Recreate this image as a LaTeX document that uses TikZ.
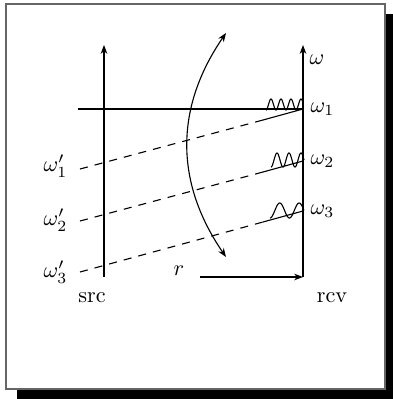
\documentclass[tikz,border=0pt]{standalone}
\usetikzlibrary{arrows.meta}
\begin{document}
\begin{tikzpicture}[x=0.45pt,y=-0.45pt,line width=0.5pt,
  lbl/.style={inner sep=0pt},
  axisline/.style={-{Stealth[length=4pt,width=3pt]}},
  dashpart/.style={dash pattern=on 3.6pt off 3.2pt},
  wig/.style={smooth}]
\useasboundingbox (0,0) rectangle (393,399);
% frame with shadow
\fill[black] (17,14) rectangle (400,405);
\draw[fill=white,draw=black!60,line width=0.7pt] (6,4) rectangle (385,389);
% axes
\coordinate (s0) at (104,277); \coordinate (s1) at (104,45);
\coordinate (r0) at (303,277); \coordinate (r1) at (303,45);
\draw[axisline] (s0) -- (s1);
\draw[axisline] (r0) -- (r1);
% labels
\node[lbl] (om) at (317,60) {$\omega$};
\node[lbl,anchor=west] (o1) at (310,109) {$\omega_1$};
\node[lbl,anchor=west] (o2) at (310,161) {$\omega_2$};
\node[lbl,anchor=west] (o3) at (310,211) {$\omega_3$};
\node[lbl,anchor=east] (p1) at (68,166) {$\omega'_1$};
\node[lbl,anchor=east] (p2) at (68,220) {$\omega'_2$};
\node[lbl,anchor=east] (p3) at (68,272) {$\omega'_3$};
\node[lbl] (src) at (92,298) {src};
\node[lbl] (rcv) at (332,298) {rcv};
\node[lbl] (r) at (179,271) {$r$};
% horizontal line
\coordinate (h0) at (78,109); \coordinate (h1) at (303,109);
\draw (h0) -- (h1);
% mapping lines
\coordinate (a1) at (80,169); \coordinate (m1) at (263,120); \coordinate (b1) at (303,109);
\coordinate (a2) at (80,221); \coordinate (m2) at (263,172); \coordinate (b2) at (303,161);
\coordinate (a3) at (80,272); \coordinate (m3) at (263,222); \coordinate (b3) at (303,211);
\draw[dashpart] (a1) -- (m1); \draw (m1) -- (b1);
\draw[dashpart] (a2) -- (m2); \draw (m2) -- (b2);
\draw[dashpart] (a3) -- (m3); \draw (m3) -- (b3);
% r arrow
\coordinate (ra) at (200,277);
\draw[-{Stealth[length=4pt,width=3pt]}] (ra) -- (r0);
% curved double arrow
\coordinate (ct) at (226,33); \coordinate (cb) at (226,257);
\draw[{Stealth[length=4pt,width=3pt]}-{Stealth[length=4pt,width=3pt]}] (cb) .. controls (174.7,182.3) and (174.7,107.7) .. (ct);
% wiggles
\draw[wig] plot[domain=0:1,samples=90] ({266+37*\x},{110-11*(sin(3.7*180*\x))^2});
\draw[wig] plot[domain=0:1,samples=80] ({271+33*\x},{167-14*(sin(2.75*180*\x))^2});
\draw[wig] plot[domain=0:1,samples=70] ({270+34*\x},{218-15*(sin(1.75*180*\x))^2});
\end{tikzpicture}
\end{document}
